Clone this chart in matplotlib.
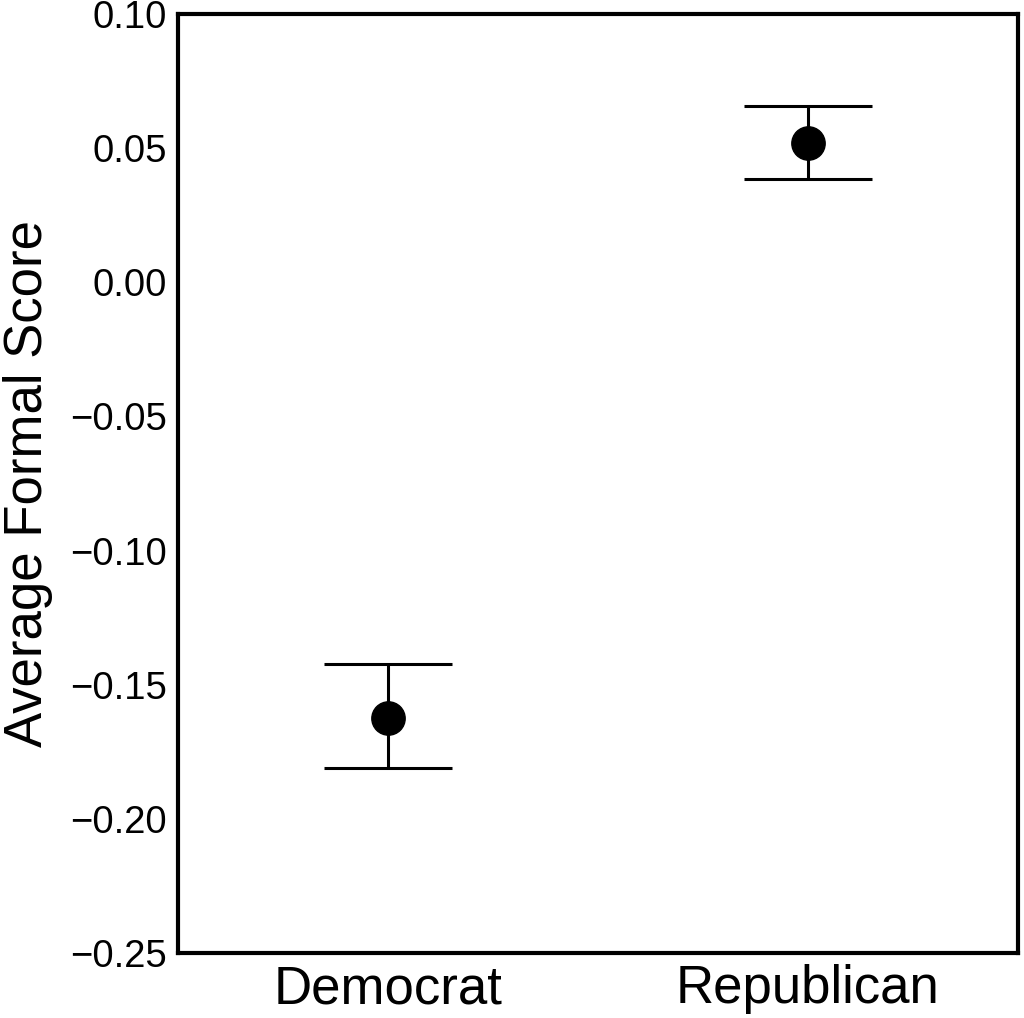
import numpy as np
import matplotlib.pyplot as plt

plt.rcParams['font.family'] = ['Liberation Sans', 'DejaVu Sans']

# data
parties = ['Democrat', 'Republican']
means = [-0.1624, 0.0519]
ci_low = [-0.1810, 0.0385]
ci_high = [-0.1423, 0.0657]
yticks = [-0.25, -0.20, -0.15, -0.10, -0.05, 0.00, 0.05, 0.10]

fig = plt.figure(figsize=(10.24, 10.18), dpi=100)
ax = fig.add_axes([178/1024, 1-953/1018, 840/1024, 939/1018])

x = np.arange(len(parties))
yerr = [np.array(means) - np.array(ci_low), np.array(ci_high) - np.array(means)]
ax.errorbar(x, means, yerr=yerr, fmt='o', color='black', ms=24,
            elinewidth=2.2, capsize=46, capthick=2.2)

ax.set_xlim(-0.5, 1.5)
ax.set_ylim(-0.25, 0.10)
ax.set_yticks(yticks)
ax.yaxis.set_major_formatter(plt.FuncFormatter(
    lambda v, p: ('%.2f' % v).replace('-', '\u2212') if abs(v) > 1e-9 else '0.00'))
ax.set_xticks(x)
ax.set_xticklabels(parties, fontsize=38)
ax.tick_params(axis='y', labelsize=27.5, length=0, pad=8)
ax.tick_params(axis='x', length=0, pad=8)
ax.set_ylabel('Average Formal Score', fontsize=38, labelpad=12)
for s in ax.spines.values():
    s.set_linewidth(3)
    s.set_color('black')

fig.savefig('out.png', dpi=100)
